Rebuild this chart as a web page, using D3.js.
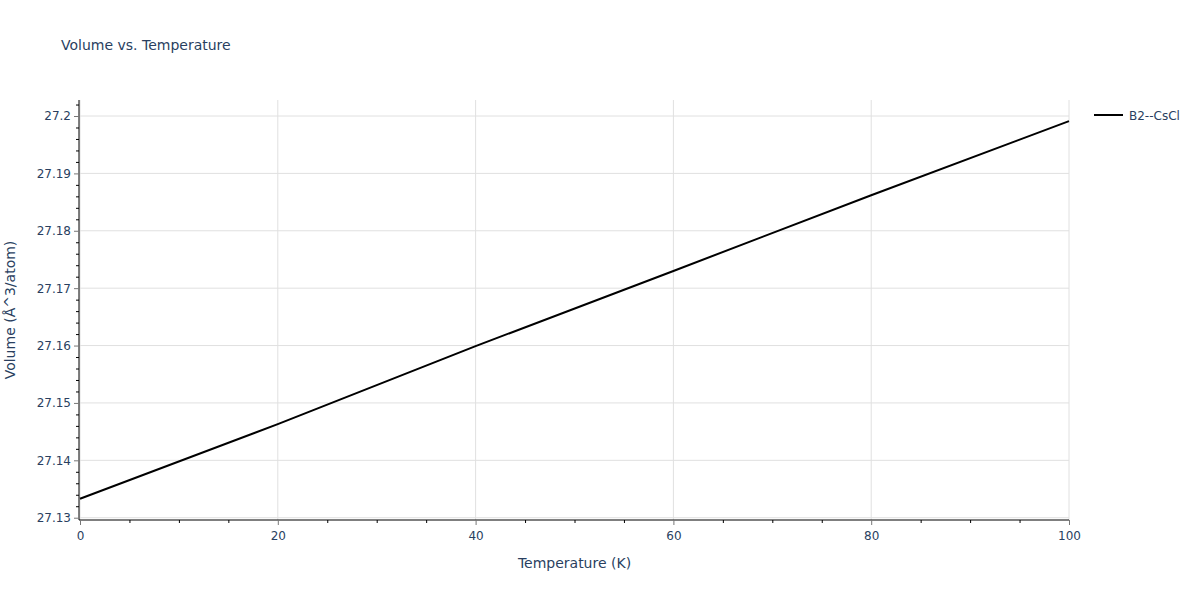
<!DOCTYPE html>
<html>
<head>
<meta charset="utf-8">
<script src="https://cdn.jsdelivr.net/npm/d3@7"></script>
<style>
  body { margin: 0; background: #fff; }
  text { font-family: "DejaVu Sans", verdana, sans-serif; fill: #2a3f5f; }
</style>
</head>
<body>
<svg id="chart" width="1200" height="600"></svg>
<script>
// Data
const temperature = [0, 20, 40, 60, 80, 100];
const volume = [27.1333, 27.1463, 27.1599, 27.1730, 27.1862, 27.1991];
const seriesName = "B2--CsCl";
const xTicks = [0, 20, 40, 60, 80, 100];
const yTicks = [27.13, 27.14, 27.15, 27.16, 27.17, 27.18, 27.19, 27.2];

const FONT = '"DejaVu Sans", verdana, sans-serif';
const margin = { left: 80, right: 1069, top: 100, bottom: 520 };
const svg = d3.select("#chart");

const x = d3.scaleLinear().domain([0, 100]).range([margin.left, margin.right]);
const y = d3.scaleLinear().domain([27.1296, 27.20279]).range([margin.bottom, margin.top]);

// grid
const grid = svg.append("g");
grid.selectAll("line.gx").data(xTicks).join("line")
  .attr("x1", d => x(d)).attr("x2", d => x(d))
  .attr("y1", margin.top).attr("y2", margin.bottom)
  .attr("stroke", "#e0e0e0").attr("stroke-width", 1);
grid.selectAll("line.gy").data(yTicks).join("line")
  .attr("x1", margin.left).attr("x2", margin.right)
  .attr("y1", d => y(d)).attr("y2", d => y(d))
  .attr("stroke", "#e0e0e0").attr("stroke-width", 1);

// minor ticks
const xMinor = d3.range(0, 101, 5).filter(v => v % 20 !== 0);
const yMinor = d3.range(27.130, 27.2025, 0.002).filter(v => Math.abs(v * 100 - Math.round(v * 100)) > 1e-6);

const xAxisMinor = d3.axisBottom(x).tickValues(xMinor).tickSize(3).tickFormat("");
const yAxisMinor = d3.axisLeft(y).tickValues(yMinor).tickSize(3).tickFormat("");

const gxm = svg.append("g").attr("transform", `translate(0,${margin.bottom})`).call(xAxisMinor);
const gym = svg.append("g").attr("transform", `translate(${margin.left - 1},0)`).call(yAxisMinor);
[gxm, gym].forEach(g => {
  g.select(".domain").remove();
  g.selectAll(".tick line").attr("stroke", "#000");
});

// major axes
const xAxis = d3.axisBottom(x).tickValues(xTicks).tickSize(5).tickPadding(6).tickFormat(d3.format("d"));
const yAxis = d3.axisLeft(y).tickValues(yTicks).tickSize(5).tickPadding(3).tickFormat(d => d3.format("")(+d.toFixed(2)));

const gx = svg.append("g").attr("transform", `translate(0,${margin.bottom})`).call(xAxis);
const gy = svg.append("g").attr("transform", `translate(${margin.left - 1},0)`).call(yAxis);
[gx, gy].forEach(g => {
  g.select(".domain").attr("stroke", "#000").attr("stroke-width", 1);
  g.selectAll(".tick line").attr("stroke", "#777");
  g.selectAll(".tick text").style("font-size", "12px").attr("fill", "#2a3f5f")
    .style("font-family", FONT);
});
gx.select(".domain").attr("d", `M${margin.left - 1},0H${margin.right}`);
gy.select(".domain").attr("d", `M0,${margin.bottom}V${margin.top}`);

// line
const line = d3.line().x((d, i) => x(temperature[i])).y(d => y(d));
svg.append("path").datum(volume)
  .attr("d", line).attr("fill", "none")
  .attr("stroke", "#000").attr("stroke-width", 2);

// title
svg.append("text").attr("x", 61).attr("y", 50)
  .style("font-size", "14px").text("Volume vs. Temperature");

// axis titles
svg.append("text").attr("x", (margin.left + margin.right) / 2).attr("y", 568)
  .attr("text-anchor", "middle").style("font-size", "14px").text("Temperature (K)");
svg.append("text").attr("transform", `translate(15,${(margin.top + margin.bottom) / 2}) rotate(-90)`)
  .attr("text-anchor", "middle").style("font-size", "14px").text("Volume (Å^3/atom)");

// legend
const lg = svg.append("g").attr("transform", "translate(1094,115)");
lg.append("line").attr("x1", 0).attr("x2", 29).attr("y1", 0).attr("y2", 0)
  .attr("stroke", "#000").attr("stroke-width", 2);
lg.append("text").attr("x", 35).attr("y", 4.5).style("font-size", "12px").text(seriesName);
</script>
</body>
</html>
